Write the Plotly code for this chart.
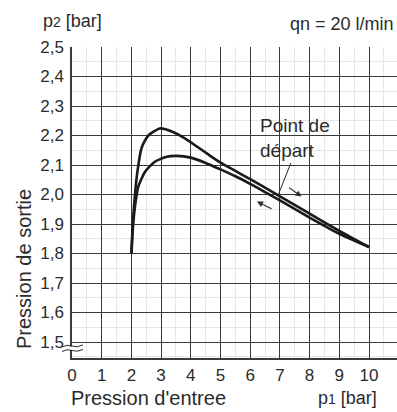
import plotly.graph_objects as go

# Curve: upper and lower branch of the regulation curve
UP_P1 = [2.0, 2.03, 2.08, 2.18, 2.35, 2.57, 2.96, 3.4, 3.8, 4.2, 4.6, 5.0, 5.5, 6.0, 6.5, 7.0, 8.0, 9.0, 10.0]
UP_P2 = [1.80, 1.87, 1.95, 2.06, 2.16, 2.20, 2.224, 2.212, 2.19, 2.163, 2.135, 2.108, 2.08, 2.052, 2.023, 1.994, 1.935, 1.877, 1.822]
LO_P1 = [2.0, 2.06, 2.12, 2.23, 2.46, 2.79, 3.19, 3.52, 4.0, 4.5, 5.0, 5.5, 6.0, 6.5, 7.0, 8.0, 9.0, 10.0]
LO_P2 = [1.80, 1.90, 1.959, 2.026, 2.077, 2.111, 2.128, 2.131, 2.125, 2.107, 2.085, 2.062, 2.036, 2.008, 1.980, 1.922, 1.867, 1.822]

X_TICKS = list(range(0, 11))
Y_TICKS = [1.5, 1.6, 1.7, 1.8, 1.9, 2.0, 2.1, 2.2, 2.3, 2.4, 2.5]

W, H = 397, 412
L, R, T, B = 72, 0, 47, 54
PW, PH = W - L - R, H - T - B

FONT = "Liberation Sans, Arial, sans-serif"
INK = '#2b2b2b'


def px(x):
    """pixel x -> paper x"""
    return (x - L) / PW


def py(y):
    """pixel y -> paper y"""
    return (H - B - y) / PH


fig = go.Figure()
for xs, ys in [(UP_P1, UP_P2), (LO_P1, LO_P2)]:
    fig.add_trace(go.Scatter(
        x=xs, y=ys, mode='lines',
        line=dict(color='#1a1a1a', width=2.6, shape='spline', smoothing=0.6),
        showlegend=False, hoverinfo='skip'
    ))

# White box behind the "Point de départ" label
fig.add_shape(type='rect', xref='paper', yref='paper',
              x0=px(255), x1=px(340), y0=py(161), y1=py(114),
              fillcolor='white', line_width=0, layer='between')

# Axis break marks near 1,5
fig.add_shape(type='rect', xref='paper', yref='paper',
              x0=px(63), x1=px(83), y0=py(350), y1=py(346.5),
              fillcolor='white', line_width=0, layer='above')
for yy in [346, 350.5]:
    path = (f"M {px(62)},{py(yy + 1)} Q {px(67)},{py(yy - 2)} {px(72)},{py(yy)} "
            f"T {px(83)},{py(yy - 1)}")
    fig.add_shape(type='path', xref='paper', yref='paper', path=path,
                  line=dict(color=INK, width=1), layer='above')

ann = dict(showarrow=False, font=dict(family=FONT, size=20, color=INK))
fig.add_annotation(text='Point de<br>départ', xref='paper', yref='paper', x=px(258), y=py(138),
                   xanchor='left', yanchor='middle', align='left', showarrow=False,
                   font=dict(family=FONT, size=19, color=INK))
fig.add_annotation(text='Pression d\'entree', xref='paper', yref='paper', x=px(69), y=py(398),
                   xanchor='left', yanchor='middle', **ann)
fig.add_annotation(text='Pression de sortie', xref='paper', yref='paper', x=px(24), y=py(269),
                   xanchor='center', yanchor='middle', textangle=-90, **ann)
small = dict(showarrow=False, font=dict(family=FONT, size=18, color=INK))
fig.add_annotation(text='p<span style="font-size:14px">2</span> [bar]', xref='paper', yref='paper',
                   x=px(41), y=py(21), xanchor='left', yanchor='middle', **small)
fig.add_annotation(text='qn = 20 l/min', xref='paper', yref='paper',
                   x=px(396), y=py(24), xanchor='right', yanchor='middle', **small)
fig.add_annotation(text='p<span style="font-size:14px">1</span> [bar]', xref='paper', yref='paper',
                   x=px(316), y=py(398), xanchor='left', yanchor='middle', **small)

# Leader line and direction arrows
fig.add_annotation(x=6.95, y=2.0, ax=13, ay=-33, text='', showarrow=True,
                   arrowhead=0, arrowwidth=1, arrowcolor=INK)
fig.add_annotation(x=7.73, y=1.993, ax=-14, ay=-10, text='', showarrow=True,
                   arrowhead=2, arrowsize=1, arrowwidth=1.2, arrowcolor=INK)
fig.add_annotation(x=6.23, y=1.976, ax=16, ay=8, text='', showarrow=True,
                   arrowhead=2, arrowsize=1, arrowwidth=1.2, arrowcolor=INK)

axis_common = dict(
    showgrid=True, gridcolor='#3a3a3a', gridwidth=1.3,
    zeroline=False, showline=True, linecolor='#3a3a3a', linewidth=1.5,
    ticks='', tickfont=dict(family=FONT, size=17, color=INK),
    minor=dict(showgrid=True, gridcolor='#e6e6e6', gridwidth=1),
)

fig.update_xaxes(range=[0, PW / 29.7], tickvals=X_TICKS, ticktext=[str(v) for v in X_TICKS],
                 ticklabelstandoff=1, **axis_common)
fig.update_yaxes(range=[1.5 - 16 / 295, 2.5], tickvals=Y_TICKS, tickformat='.1f',
                 ticklabelstandoff=3, **axis_common)
fig.update_xaxes(minor=dict(dtick=0.5))
fig.update_yaxes(minor=dict(dtick=0.05))

fig.update_layout(
    width=W, height=H,
    margin=dict(l=L, r=R, t=T, b=B),
    paper_bgcolor='white', plot_bgcolor='white',
    separators=',.',
    font=dict(family=FONT, color=INK),
)

# the page body has a default 8px margin; drop it so the figure fills the window
fig.write_html("out.html", config={'displayModeBar': False},
               post_script="document.body.style.margin='0px';")
